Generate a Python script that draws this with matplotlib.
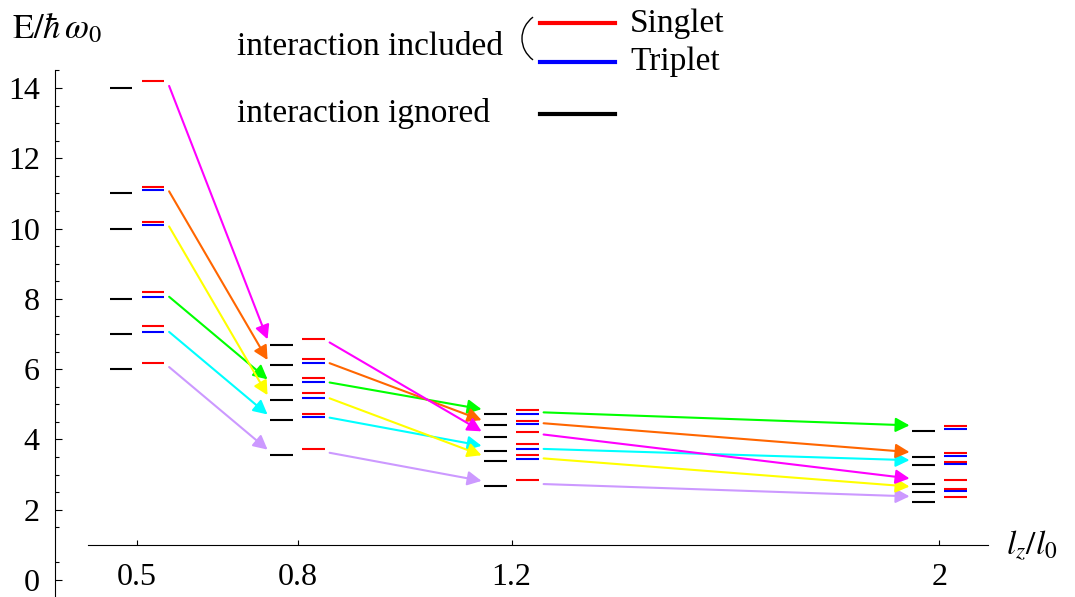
import matplotlib
matplotlib.use("Agg")
import matplotlib.pyplot as plt
from matplotlib.lines import Line2D
from matplotlib.patches import Arc, FancyArrowPatch
from matplotlib.transforms import IdentityTransform
import numpy as np

# data
lz = [0.5, 0.8, 1.2, 2.0]
lz_labels = ["0.5", "0.8", "1.2", "2"]

# non-interacting levels, followed state by state across lz
state_colors = ["#CC99FF", "#00FFFF", "#00FF00", "#FFFF00", "#FF6600", "#FF00FF"]
free_lavender = [6.0, 3.56, 2.67, 2.23]
free_cyan = [7.0, 4.56, 3.67, 3.26]
free_green = [8.0, 5.56, 4.71, 4.25]
free_yellow = [10.0, 5.11, 3.40, 2.51]
free_orange = [11.0, 6.11, 4.40, 3.49]
free_magenta = [14.0, 6.70, 4.08, 2.74]
free_states = [free_lavender, free_cyan, free_green,
               free_yellow, free_orange, free_magenta]

# interacting levels at each lz
singlet = [
    [6.18, 7.22, 8.19, 10.20, 11.18, 14.19],
    [3.73, 4.73, 5.32, 5.74, 6.28, 6.87],
    [2.84, 3.56, 3.87, 4.22, 4.53, 4.83],
    [2.36, 2.60, 2.84, 3.35, 3.61, 4.37],
]
triplet = [
    [7.07, 8.06, 10.11, 11.09],
    [4.63, 5.19, 5.63, 6.18],
    [3.43, 3.74, 4.43, 4.73],
    [2.54, 3.30, 3.53, 4.29],
]

W, H = 1075, 597
plt.rcParams.update({
    "font.family": ["Liberation Serif", "DejaVu Serif"],
    "mathtext.fontset": "stix",
    "font.size": 23,
})

fig = plt.figure(figsize=(W / 100, H / 100), dpi=100)
ax = fig.add_axes([55 / W, 0, 1 - 55 / W, 1])
ax.set_xlim(0.3467, 2.2533)
ax.set_ylim(-0.484, 16.505)

# levels
for i, x in enumerate(lz):
    free = [s[i] for s in free_states]
    ax.hlines(free, x - 0.0505, x - 0.0093, color="black", lw=1.5)
    ax.hlines(singlet[i], x + 0.0093, x + 0.0505, color="#FF0000", lw=1.5)
    ax.hlines(triplet[i], x + 0.0093, x + 0.0505, color="#0000FF", lw=1.5)

# arrows following each state
for energies, c in zip(free_states, state_colors):
    for i in range(len(lz) - 1):
        arr = FancyArrowPatch(
            (lz[i] + 0.06, energies[i] + 0.06),
            (lz[i + 1] - 0.056, energies[i + 1] + 0.15),
            arrowstyle="-|>,head_length=0.7,head_width=0.36",
            mutation_scale=12,
            color=c,
            lw=1.5,
            shrinkA=0,
            shrinkB=0,
        )
        ax.add_patch(arr)

# axes
ax.spines["top"].set_visible(False)
ax.spines["right"].set_visible(False)
ax.spines["left"].set_bounds(-0.484, 14.5)
ax.spines["bottom"].set_position(("data", 1.0))
ax.spines["bottom"].set_bounds(0.408, 2.090)

ax.set_xticks(lz, labels=lz_labels)
ax.tick_params(axis="x", direction="in", length=3.5, width=0.8, pad=13)
ax.set_yticks(np.arange(0, 15, 2))
ax.set_yticks([v for v in np.arange(0.5, 14.6, 0.5) if v % 2 and v != 1.0],
              minor=True)
ax.tick_params(axis="y", which="major", direction="in", length=5, width=0.8,
               pad=11)
ax.tick_params(axis="y", which="minor", direction="in", length=2.8, width=0.8)

# axis labels
fig.text(12 / W, 1 - 38 / H, r"$\mathrm{E}/\hbar\,\omega_0$", fontsize=25,
         va="baseline")
fig.text(1006 / W, 1 - 545 / H, r"$l_z/l_0$", fontsize=24, va="center")

# legend
fig.text(237 / W, 1 - 55 / H, "interaction included", fontsize=24,
         va="baseline")
fig.text(237 / W, 1 - 122 / H, "interaction ignored", fontsize=24,
         va="baseline")
fig.text(630 / W, 1 - 32 / H, "Singlet", fontsize=24, va="baseline")
fig.text(630 / W, 1 - 70 / H, "Triplet", fontsize=24, va="baseline")
for y, c in [(23, "#FF0000"), (62, "#0000FF"), (114, "black")]:
    fig.add_artist(Line2D([540 / W, 615 / W], [1 - y / H] * 2, color=c, lw=3))
fig.add_artist(Arc((553, H - 38.5), 62, 56, theta1=133, theta2=227,
                   transform=IdentityTransform(), color="black", lw=1))

fig.savefig("out.png", dpi=100)
